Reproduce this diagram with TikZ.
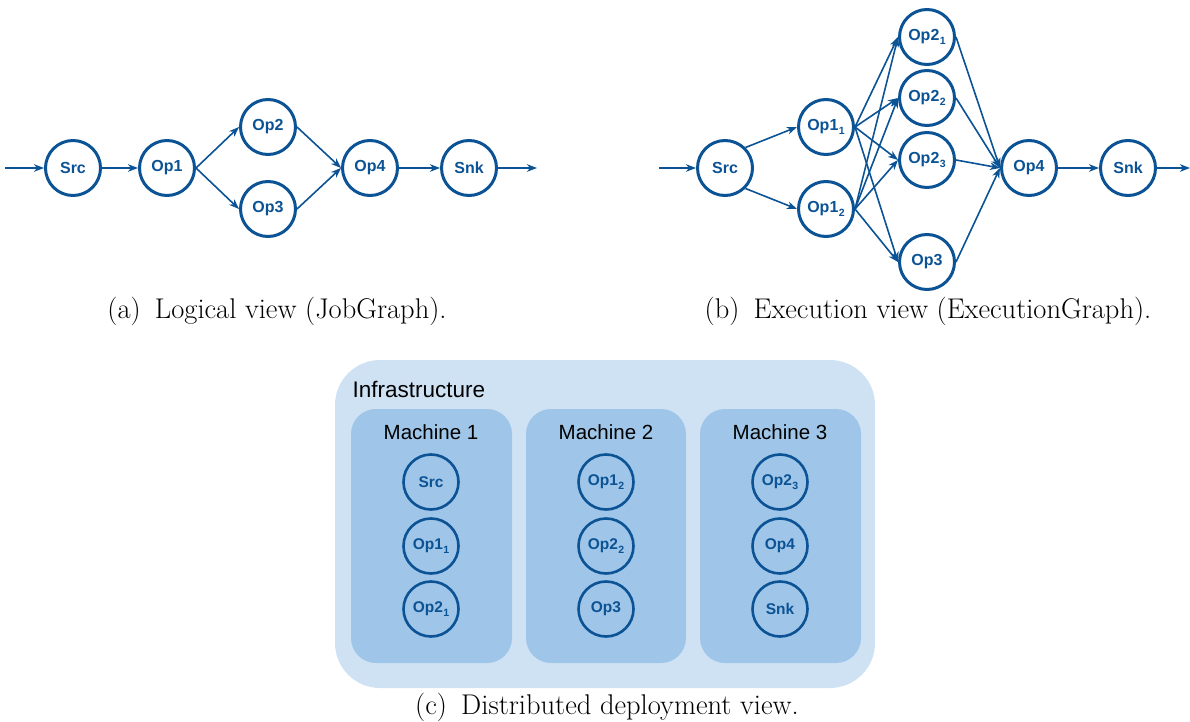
\documentclass[tikz,border=0pt]{standalone}
\usepackage{fontspec}
\newfontfamily\arial{Liberation Sans}
\usetikzlibrary{arrows.meta}
\definecolor{dblue}{HTML}{0B5394}
\definecolor{infra}{HTML}{CFE2F3}
\definecolor{mach}{HTML}{9FC5E8}
\newcommand{\sbs}[1]{\kern0.5pt\raisebox{-4pt}{\fontsize{10.5}{10}\selectfont #1}}
\begin{document}
\begin{tikzpicture}[x=1pt,y=-1pt,
  op/.style={circle,draw=dblue,line width=3pt,minimum size=55pt,inner sep=0pt,
    text=dblue,font=\arial\bfseries\fontsize{16}{18}\selectfont},
  dop/.style={op,line width=2.6pt,minimum size=55pt,font=\arial\bfseries\fontsize{15.5}{18}\selectfont},
  edge/.style={draw=dblue,line width=1.6pt,-{Stealth[length=10pt,width=7.5pt,inset=3pt]}},
  captxt/.style={font=\fontsize{28.5}{32}\selectfont},
  lab/.style={font=\arial\fontsize{20.5}{24}\selectfont,text=black}]
\useasboundingbox (0,0) rectangle (1190,722);
% (a) logical view
\node[op] (lsrc) at (73,168) {Src};
\node[op] (lop1) at (167,168) {Op1};
\node[op] (lop2) at (268,127) {Op2};
\node[op] (lop3) at (268,209) {Op3};
\node[op] (lop4) at (370,168) {Op4};
\node[op] (lsnk) at (469,168) {Snk};
\coordinate (lin) at (5,168);
\coordinate (lout) at (537,168);
\draw[edge] (lin) -- (lsrc);
\draw[edge] (lsrc) -- (lop1);
\draw[edge] (lop1.east) -- (lop2.west);
\draw[edge] (lop1.east) -- (lop3.west);
\draw[edge] (lop2.east) -- (lop4.west);
\draw[edge] (lop3.east) -- (lop4.west);
\draw[edge] (lop4) -- (lsnk);
\draw[edge] (lsnk) -- (lout);
\node[captxt] (capa) at (277,311) {(a)\enspace Logical view (JobGraph).};
% (b) execution view
\node[op] (esrc) at (725,168) {Src};
\node[op] (eop11) at (826,127) {Op1\sbs{1}};
\node[op] (eop12) at (826,209) {Op1\sbs{2}};
\node[op] (eop21) at (927,37) {Op2\sbs{1}};
\node[op] (eop22) at (927,98) {Op2\sbs{2}};
\node[op] (eop23) at (927,160) {Op2\sbs{3}};
\node[op] (eop3) at (927,262) {Op3};
\node[op] (eop4) at (1029,168) {Op4};
\node[op] (esnk) at (1128,168) {Snk};
\coordinate (ein) at (659,168);
\coordinate (eout) at (1190,168);
\draw[edge] (ein) -- (esrc);
\draw[edge] (esrc.north east) -- (eop11.west);
\draw[edge] (esrc.south east) -- (eop12.west);
\foreach \s in {eop11,eop12}
  \foreach \t in {eop21,eop22,eop23,eop3}
    \draw[edge] (\s.east) -- (\t.west);
\foreach \s in {eop21,eop22,eop23,eop3}
  \draw[edge] (\s.east) -- (eop4.west);
\draw[edge] (eop4) -- (esnk);
\draw[edge] (esnk) -- (eout);
\node[captxt] (capb) at (928,311) {(b)\enspace Execution view (ExecutionGraph).};
% (c) deployment view
\path[fill=infra,rounded corners=45pt] (335,360) rectangle (875,688);
\node[anchor=west,font=\arial\fontsize{22.5}{26}\selectfont] (infl) at (349,389) {Infrastructure};
\path[fill=mach,rounded corners=25pt] (351,409) rectangle (512,663);
\path[fill=mach,rounded corners=25pt] (526,409) rectangle (686,663);
\path[fill=mach,rounded corners=25pt] (700,409) rectangle (861,663);
\node[lab] (m1) at (431,432) {Machine 1};
\node[lab] (m2) at (606,432) {Machine 2};
\node[lab] (m3) at (780,432) {Machine 3};
\node[dop] (d1a) at (431,482) {Src};
\node[dop] (d1b) at (431,546) {Op1\sbs{1}};
\node[dop] (d1c) at (431,609) {Op2\sbs{1}};
\node[dop] (d2a) at (606,482) {Op1\sbs{2}};
\node[dop] (d2b) at (606,546) {Op2\sbs{2}};
\node[dop] (d2c) at (606,609) {Op3};
\node[dop] (d3a) at (780,482) {Op2\sbs{3}};
\node[dop] (d3b) at (780,546) {Op4};
\node[dop] (d3c) at (780,609) {Snk};
\node[captxt] (capc) at (607,707) {(c)\enspace Distributed deployment view.};
\end{tikzpicture}
\end{document}
